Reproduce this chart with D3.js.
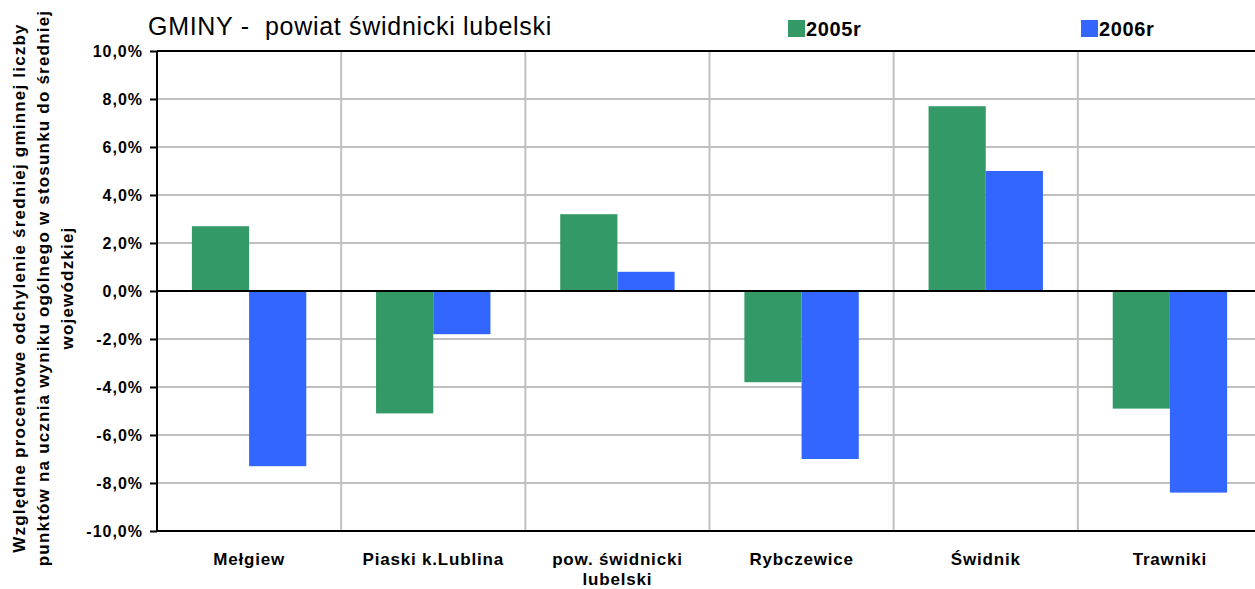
<!DOCTYPE html>
<html>
<head>
<meta charset="utf-8">
<script src="https://cdn.jsdelivr.net/npm/d3@7"></script>
<style>
  body { margin: 0; background: #fff; }
  text { font-family: "Liberation Sans", Arial, sans-serif; }
</style>
</head>
<body>
<script>
// data
var categories = ["Mełgiew", "Piaski k.Lublina", "pow. świdnicki lubelski", "Rybczewice", "Świdnik", "Trawniki"];
var series = ["2005r", "2006r"];
var values2005 = [2.7, -5.1, 3.2, -3.8, 7.7, -4.9];
var values2006 = [-7.3, -1.8, 0.8, -7.0, 5.0, -8.4];
var yTicks = [-10, -8, -6, -4, -2, 0, 2, 4, 6, 8, 10];
var colors = ["#339966", "#3366ff"];

var width = 1255, height = 589;
var margin = {top: 51, right: -7, bottom: 58, left: 157};

var svg = d3.select("body").append("svg")
    .attr("width", width)
    .attr("height", height);

// plot area runs a little past the right edge, like the original
var x = d3.scaleBand()
    .domain(categories)
    .range([margin.left, width - margin.right]);

var xs = d3.scaleBand()
    .domain(series)
    .range([0, x.bandwidth()])
    .paddingOuter(0.61);

var y = d3.scaleLinear()
    .domain([-10, 10])
    .range([height - margin.bottom, margin.top]);

// horizontal gridlines
svg.append("g").selectAll("line")
  .data(yTicks)
  .enter().append("line")
    .attr("x1", margin.left).attr("x2", width)
    .attr("y1", function(d) { return y(d); })
    .attr("y2", function(d) { return y(d); })
    .style("stroke", "#c0c0c0")
    .style("stroke-width", 2);

// vertical category separators
svg.append("g").selectAll("line")
  .data(categories.slice(1))
  .enter().append("line")
    .attr("x1", function(d) { return x(d); })
    .attr("x2", function(d) { return x(d); })
    .attr("y1", y(10)).attr("y2", y(-10))
    .style("stroke", "#c0c0c0")
    .style("stroke-width", 2);

// bars
var rows = categories.map(function(c, i) {
  return {cat: c, vals: [values2005[i], values2006[i]]};
});

var groups = svg.append("g").selectAll("g")
  .data(rows)
  .enter().append("g")
    .attr("transform", function(d) { return "translate(" + x(d.cat) + ",0)"; });

groups.selectAll("rect")
  .data(function(d) { return d.vals.map(function(v, j) { return {s: series[j], v: v, j: j}; }); })
  .enter().append("rect")
    .attr("x", function(d) { return xs(d.s); })
    .attr("width", xs.bandwidth())
    .attr("y", function(d) { return y(Math.max(0, d.v)); })
    .attr("height", function(d) { return Math.abs(y(d.v) - y(0)); })
    .style("fill", function(d) { return colors[d.j]; });

// frame lines: top, bottom, zero
[10, 0, -10].forEach(function(v) {
  svg.append("line")
    .attr("x1", margin.left).attr("x2", width)
    .attr("y1", y(v)).attr("y2", y(v))
    .style("stroke", "#000")
    .style("stroke-width", 2);
});

// y axis
var yAxis = svg.append("g")
    .attr("transform", "translate(" + margin.left + ",0)")
    .call(d3.axisLeft(y).tickValues(yTicks).tickSize(7).tickPadding(7)
      .tickFormat(function(d) { return d3.format(".1f")(d).replace(".", ",").replace("−", "-") + "%"; }));
yAxis.select(".domain").style("stroke", "#000").style("stroke-width", 2)
    .attr("d", "M0," + y(10) + "V" + y(-10));
yAxis.selectAll(".tick line").style("stroke", "#000").style("stroke-width", 2);
yAxis.selectAll("text")
    .style("font-size", "16px")
    .style("font-weight", "bold")
    .style("letter-spacing", "1px")
    .style("fill", "#000");

// x labels
var xLabels = {
  "pow. świdnicki lubelski": ["pow. świdnicki", "lubelski"]
};
var xl = svg.append("g").selectAll("text")
  .data(categories)
  .enter().append("text")
    .attr("x", function(d) { return x(d) + x.bandwidth() / 2; })
    .attr("y", 565)
    .attr("text-anchor", "middle")
    .style("font-size", "17px")
    .style("letter-spacing", "0.8px")
    .style("font-weight", "bold");
xl.each(function(d) {
  var lines = xLabels[d] || [d];
  d3.select(this).selectAll("tspan")
    .data(lines)
    .enter().append("tspan")
      .attr("x", x(d) + x.bandwidth() / 2)
      .attr("dy", function(l, i) { return i === 0 ? 0 : 20; })
      .text(function(l) { return l; });
});

// y title
var yTitle = ["Względne procentowe odchylenie średniej gminnej liczby",
              "punktów na ucznia wyniku ogólnego w stosunku do średniej",
              "wojewódzkiej"];
svg.append("text")
    .attr("transform", "translate(25,288) rotate(-90)")
    .attr("text-anchor", "middle")
    .style("font-size", "17px")
    .style("letter-spacing", "1.2px")
    .style("font-weight", "bold")
  .selectAll("tspan")
  .data(yTitle)
  .enter().append("tspan")
    .attr("x", 0)
    .attr("dy", function(d, i) { return i === 0 ? 0 : 24; })
    .text(function(d) { return d; });

// title
svg.append("text")
    .attr("x", 148)
    .attr("y", 35)
    .style("font-size", "25px")
    .style("letter-spacing", "0.7px")
    .attr("xml:space", "preserve")
    .text("GMINY -  powiat świdnicki lubelski");

// legend
var legendX = [788, 1081];
series.forEach(function(s, i) {
  svg.append("rect")
    .attr("x", legendX[i]).attr("y", 20)
    .attr("width", 17).attr("height", 17)
    .style("fill", colors[i]);
  svg.append("text")
    .attr("x", legendX[i] + 18).attr("y", 36)
    .style("font-size", "20px")
    .style("letter-spacing", "0.6px")
    .style("font-weight", "bold")
    .text(s);
});
</script>
</body>
</html>
